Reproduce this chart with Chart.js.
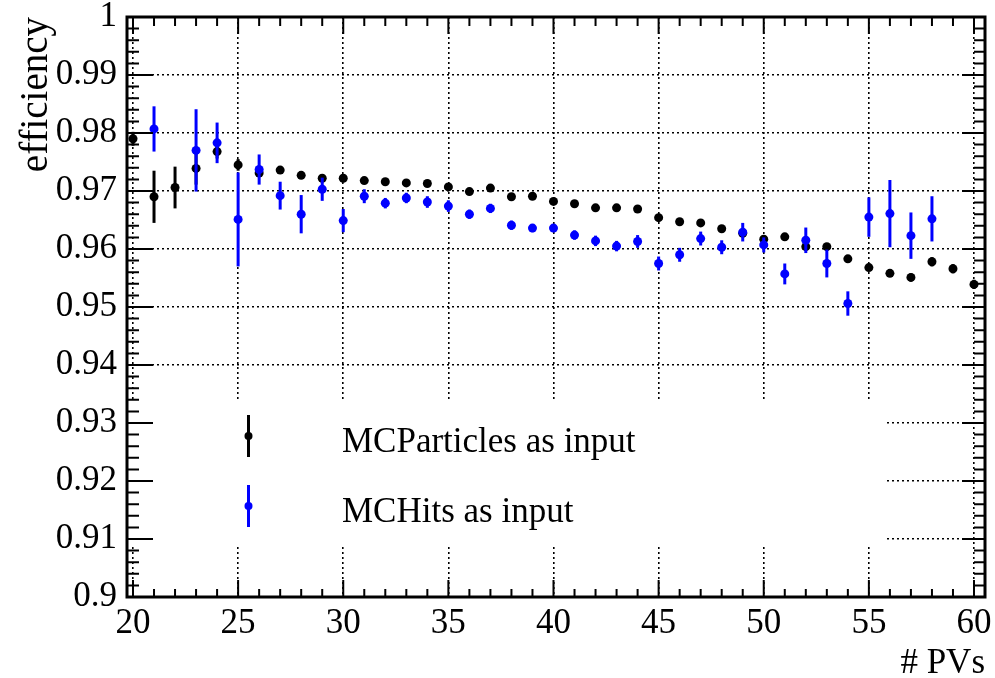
<!DOCTYPE html>
<html>
<head>
<meta charset="utf-8">
<script src="https://cdn.jsdelivr.net/npm/chart.js@4.4.1/dist/chart.umd.min.js"></script>
<style>
  html, body { margin: 0; padding: 0; background: #fff; }
</style>
</head>
<body>
<canvas id="c" width="995" height="678"></canvas>
<script>
// number of PVs (x), efficiency with MCParticles as input (black)
const mcpPVs = [20, 21, 22, 23, 24, 25, 26, 27, 28, 29, 30, 31, 32, 33, 34, 35, 36, 37, 38, 39, 40,
  41, 42, 43, 44, 45, 46, 47, 48, 49, 50, 51, 52, 53, 54, 55, 56, 57, 58, 59, 60]
const mcpEff = [0.9790, 0.9690, 0.9706, 0.9739, 0.9768, 0.9745, 0.9731, 0.9736, 0.9727, 0.9722, 0.9722,
  0.9718, 0.9716, 0.9714, 0.9713, 0.9707, 0.9699, 0.9705, 0.9690, 0.9691, 0.9682,
  0.9678, 0.9671, 0.9671, 0.9669, 0.9654, 0.9647, 0.9645, 0.9635, 0.9627, 0.9617,
  0.9621, 0.9604, 0.9604, 0.9583, 0.9568, 0.9558, 0.9551, 0.9578, 0.9566, 0.9539]
const mcpErr = [0.0012, 0.0045, 0.0036, 0.0028, 0.0012, 0.0010, 0.0006, 0.0005, 0.0005, 0.0005, 0.0005,
  0.0005, 0.0005, 0.0005, 0.0005, 0.0005, 0.0005, 0.0005, 0.0005, 0.0005, 0.0005,
  0.0005, 0.0005, 0.0005, 0.0005, 0.0005, 0.0005, 0.0005, 0.0005, 0.0005, 0.0005,
  0.0005, 0.0005, 0.0005, 0.0006, 0.0006, 0.0006, 0.0007, 0.0008, 0.0008, 0.0008]

// efficiency with MCHits as input (blue)
const hitPVs = [21, 23, 24, 25, 26, 27, 28, 29, 30, 31, 32, 33, 34, 35, 36, 37, 38, 39, 40,
  41, 42, 43, 44, 45, 46, 47, 48, 49, 50, 51, 52, 53, 54, 55, 56, 57, 58]
const hitEff = [0.9807, 0.9770, 0.9783, 0.9651, 0.9737, 0.9692, 0.9660, 0.9703, 0.9649,
  0.9691, 0.9679, 0.9688, 0.9681, 0.9674, 0.9660, 0.9670, 0.9641, 0.9636, 0.9636,
  0.9624, 0.9614, 0.9605, 0.9613, 0.9575, 0.9590, 0.9618, 0.9603, 0.9629, 0.9607,
  0.9557, 0.9615, 0.9575, 0.9506, 0.9655, 0.9661, 0.9623, 0.9652]
const hitErr = [0.0039, 0.0071, 0.0035, 0.0081, 0.0026, 0.0024, 0.0033, 0.0020, 0.0020,
  0.0012, 0.0009, 0.0009, 0.0010, 0.0010, 0.0008, 0.0008, 0.0008, 0.0007, 0.0007,
  0.0008, 0.0009, 0.0009, 0.0011, 0.0012, 0.0012, 0.0012, 0.0012, 0.0016, 0.0013,
  0.0018, 0.0022, 0.0024, 0.0021, 0.0034, 0.0058, 0.0040, 0.0039]

const xTicks = [20, 25, 30, 35, 40, 45, 50, 55, 60]
const yTicks = [0.9, 0.91, 0.92, 0.93, 0.94, 0.95, 0.96, 0.97, 0.98, 0.99, 1]

const FONT = "'Liberation Serif', 'Times New Roman', serif"

const toPoints = (xs, ys, es) => xs.map((x, i) => ({ x, y: ys[i], err: es[i] }))

// vertical error bars, drawn just before each dataset's markers
const errorBars = {
  id: 'errorBars',
  beforeDatasetDraw (chart, args) {
    const ds = chart.data.datasets[args.index]
    const { ctx, scales: { x, y } } = chart
    ctx.save()
    ctx.strokeStyle = ds.backgroundColor
    ctx.lineWidth = 3
    ds.data.forEach(p => {
      const px = x.getPixelForValue(p.x)
      ctx.beginPath()
      ctx.moveTo(px, y.getPixelForValue(p.y - p.err))
      ctx.lineTo(px, y.getPixelForValue(p.y + p.err))
      ctx.stroke()
    })
    ctx.restore()
  }
}

// ROOT-like legend box
const rootLegend = {
  id: 'rootLegend',
  beforeDatasetsDraw (chart) {
    const ctx = chart.ctx
    ctx.save()
    ctx.fillStyle = '#fff'
    ctx.fillRect(129, 399, 757, 146)
    const entries = [
      { label: 'MCParticles as input', color: '#000', y: 436 },
      { label: 'MCHits as input', color: '#0000ff', y: 506 }
    ]
    entries.forEach(e => {
      ctx.strokeStyle = e.color
      ctx.fillStyle = e.color
      ctx.lineWidth = 3
      ctx.beginPath()
      ctx.moveTo(248.5, e.y - 21)
      ctx.lineTo(248.5, e.y + 21)
      ctx.stroke()
      ctx.beginPath()
      ctx.arc(248.5, e.y, 4, 0, Math.PI * 2)
      ctx.fill()
      ctx.fillStyle = '#000'
      ctx.font = '35px ' + FONT
      ctx.textBaseline = 'alphabetic'
      ctx.textAlign = 'left'
      ctx.fillText(e.label, 342, e.y + 16)
    })
    ctx.restore()
  }
}

// frame with inward ticks on all four sides
const rootFrame = {
  id: 'rootFrame',
  afterDraw (chart) {
    const { ctx, chartArea: a, scales: { x, y } } = chart
    ctx.save()
    ctx.strokeStyle = '#000'
    ctx.lineWidth = 2
    ctx.beginPath()
    for (let v = 20; v <= 60; v++) {
      const px = x.getPixelForValue(v)
      const major = v % 5 === 0
      ctx.moveTo(px, a.bottom)
      ctx.lineTo(px, a.bottom - (major ? 17 : 8))
      ctx.moveTo(px, a.top)
      ctx.lineTo(px, a.top + (major ? 17 : 9))
    }
    for (let i = 0; i <= 50; i++) {
      const py = y.getPixelForValue(0.9 + i * 0.002)
      const major = i % 5 === 0
      ctx.moveTo(a.left, py)
      ctx.lineTo(a.left + (major ? 26 : 12), py)
      ctx.moveTo(a.right, py)
      ctx.lineTo(a.right - (major ? 23 : 11), py)
    }
    ctx.stroke()
    ctx.lineWidth = 3
    ctx.strokeRect(a.left, a.top, a.right - a.left, a.bottom - a.top)
    ctx.restore()
  }
}

const chart = new Chart(document.getElementById('c'), {
  type: 'scatter',
  data: {
    datasets: [
      {
        label: 'MCHits as input',
        data: toPoints(hitPVs, hitEff, hitErr),
        backgroundColor: '#0000ff',
        borderColor: '#0000ff',
        pointRadius: 4.5,
        pointHoverRadius: 4.5,
        pointBorderWidth: 0,
        order: 0
      },
      {
        label: 'MCParticles as input',
        data: toPoints(mcpPVs, mcpEff, mcpErr),
        backgroundColor: '#000000',
        borderColor: '#000000',
        pointRadius: 4.5,
        pointHoverRadius: 4.5,
        pointBorderWidth: 0,
        order: 1
      }
    ]
  },
  options: {
    responsive: false,
    devicePixelRatio: 1,
    animation: false,
    layout: { padding: { top: 17, right: 10, left: 0, bottom: 0 } },
    plugins: {
      legend: { display: false },
      tooltip: { enabled: false }
    },
    scales: {
      x: {
        type: 'linear',
        min: 19.715,
        max: 60.523,
        afterBuildTicks: s => { s.ticks = xTicks.map(v => ({ value: v })) },
        afterFit: s => { s.height = 81; s.paddingLeft = 0; s.paddingRight = 0 },
        ticks: {
          color: '#000',
          font: { family: FONT, size: 35 },
          padding: 6,
          maxRotation: 0,
          autoSkip: false
        },
        grid: { color: '#000', lineWidth: 1.6, drawTicks: false },
        border: { display: false, dash: [2, 3] },
        title: {
          display: true,
          text: '# PVs',
          align: 'end',
          color: '#000',
          font: { family: FONT, size: 35, lineHeight: 0.8 },
          padding: 0
        }
      },
      y: {
        type: 'linear',
        min: 0.9,
        max: 1,
        afterBuildTicks: s => { s.ticks = yTicks.map(v => ({ value: v })) },
        afterFit: s => { s.width = 127; s.paddingTop = 0; s.paddingBottom = 0 },
        ticks: {
          color: '#000',
          font: { family: FONT, size: 35 },
          padding: 10,
          callback: v => String(+v.toFixed(2))
        },
        grid: { color: '#000', lineWidth: 1.6, drawTicks: false },
        border: { display: false, dash: [2, 3] },
        title: {
          display: true,
          text: 'efficiency',
          align: 'end',
          color: '#000',
          font: { family: FONT, size: 39, lineHeight: 1 },
          padding: { top: 17, bottom: 0 }
        }
      }
    }
  },
  plugins: [errorBars, rootLegend, rootFrame]
})
</script>
</body>
</html>
